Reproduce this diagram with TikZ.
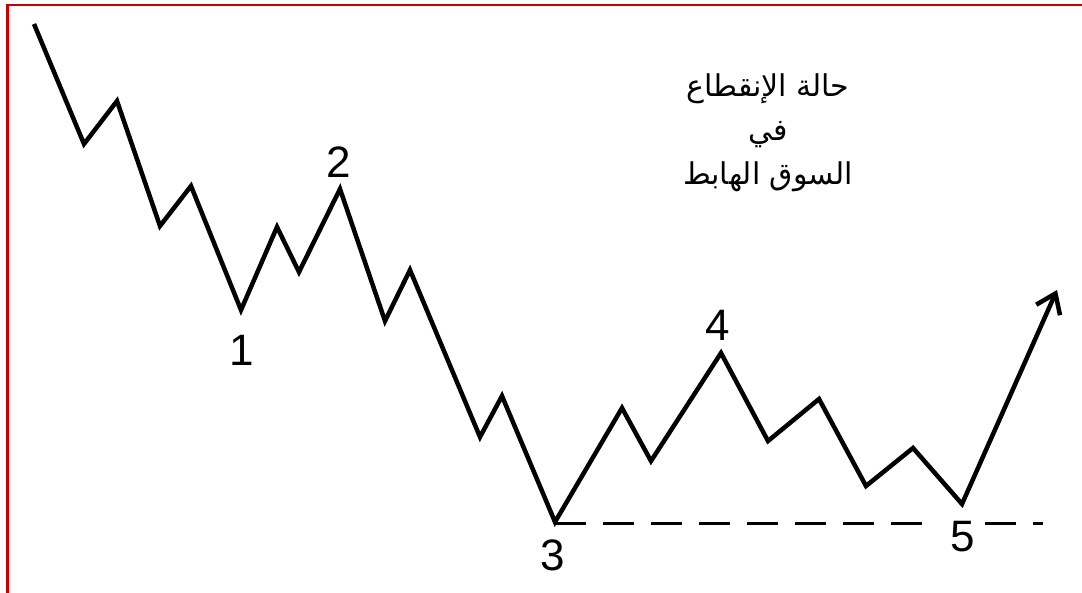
\documentclass[tikz,border=0pt]{standalone}
\usepackage{fontspec}
\setmainfont{Liberation Sans}
\newfontfamily\arabicfont[Script=Arabic]{DejaVu Sans}
\TeXXeTstate=1
\usetikzlibrary{arrows.meta}
\definecolor{framered}{HTML}{C80000}
\tikzset{
  wave/.style={line width=4.5pt, line join=miter, line cap=butt},
  support/.style={line width=3pt, dash pattern=on 31pt off 17pt, line cap=butt},
  frame/.style={draw=framered, line width=2.5pt},
  num/.style={font=\fontsize{44}{44}\selectfont, inner sep=0pt},
  title/.style={font=\arabicfont\fontsize{30}{44}\selectfont, align=center, inner sep=0pt}
}
\begin{document}
\begin{tikzpicture}[x=1pt, y=-1pt]
\useasboundingbox (0,0) rectangle (1082,593);
\fill[white] (0,0) rectangle (1082,593);
% frame (open at right and bottom)
\draw[frame] (7.5,600) -- (7.5,5) -- (1090,5);
% wave points
\coordinate (p0) at (34,24);
\coordinate (p1) at (84,144);
\coordinate (p2) at (117,101);
\coordinate (p3) at (160,226);
\coordinate (p4) at (191,186);
\coordinate (p5) at (241,310);
\coordinate (p6) at (277,227);
\coordinate (p7) at (299,272);
\coordinate (p8) at (340,189);
\coordinate (p9) at (385,321);
\coordinate (p10) at (410,270);
\coordinate (p11) at (480,437);
\coordinate (p12) at (502,396);
\coordinate (p13) at (555,522);
\coordinate (p14) at (622,408);
\coordinate (p15) at (651,461);
\coordinate (p16) at (721,353);
\coordinate (p17) at (768,441);
\coordinate (p18) at (819,399);
\coordinate (p19) at (866,486);
\coordinate (p20) at (913,448);
\coordinate (p21) at (962,504);
\coordinate (p22) at (1057,290);
\draw[wave, -{Straight Barb[length=18pt, width=26pt]}]
  (p0) -- (p1) -- (p2) -- (p3) -- (p4) -- (p5) -- (p6) -- (p7) -- (p8) -- (p9)
  -- (p10) -- (p11) -- (p12) -- (p13) -- (p14) -- (p15) -- (p16) -- (p17)
  -- (p18) -- (p19) -- (p20) -- (p21) -- (p22);
% support line
\coordinate (gapL) at (922,523);
\coordinate (gapR) at (985,523);
\coordinate (lineEnd) at (1043,523);
\draw[support] (p13 |- gapL) -- (gapL);
\draw[support] (gapR) -- (lineEnd);
% labels
\node[num] (l1) at (242,350) {1};
\node[num] (l2) at (339,162) {2};
\node[num] (l3) at (553,555) {3};
\node[num] (l4) at (718,325) {4};
\node[num] (l5) at (963,537) {5};
% title
\node[title] (t) at (768,133) {\beginR حالة الإنقطاع\endR\\ \beginR في\endR\\ \beginR السوق الهابط\endR};
\end{tikzpicture}
\end{document}
